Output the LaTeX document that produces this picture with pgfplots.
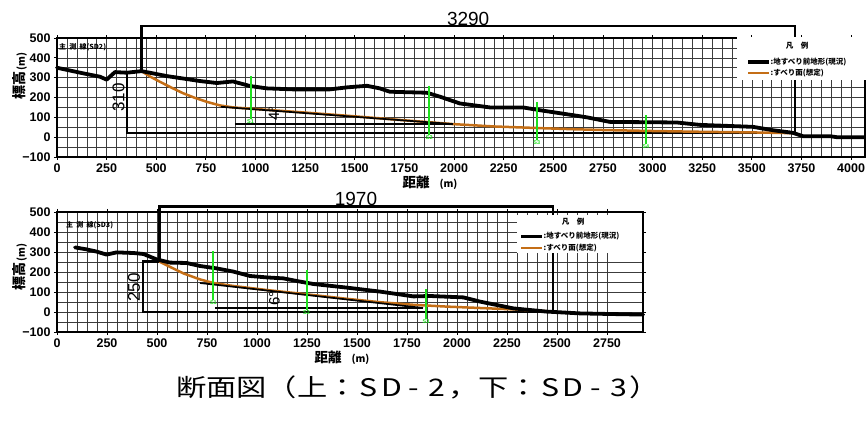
\documentclass[border=0pt]{standalone}
\usepackage{pgfplots}
\pgfplotsset{compat=1.18}
\usepackage{fontspec}
\setmainfont{Liberation Sans}
\newfontfamily\cjk{Noto Sans CJK JP}
\definecolor{slip}{RGB}{196,110,22}
\definecolor{bh}{RGB}{30,225,30}
\definecolor{gridc}{RGB}{60,60,60}
\newcommand\cc[1]{\makebox[0.75em]{#1}}
\pgfplotsset{
  myaxis/.style={
    scale only axis, anchor=south west,
    ymin=-100, ymax=500, ytick={-100,0,...,500},
    yticklabels={−100,0,100,200,300,400,500},
    minor y tick num=1, minor x tick num=4,
    grid=both,
    major grid style={gridc, line width=0.5pt},
    minor grid style={gridc, line width=0.5pt},
    axis line style={line width=1.3pt},
    tick align=outside, major tick length=3pt, minor tick length=0pt,
    tick style={black, line width=0.8pt},
    ticklabel style={font=\fontsize{12.5}{12.5}\selectfont\bfseries},
    /pgf/number format/assume math mode=true,
    /pgf/number format/1000 sep={},
    clip=false,
  },
  terrain/.style={black, line width=3.8pt, line join=round, line cap=round},
  slipline/.style={slip, line width=2.5pt, line join=round},
  boxline/.style={black, line width=2.2pt, line join=miter},
  thinline/.style={black, line width=1.7pt},
  hole/.style={bh, line width=1.9pt},
}
\begin{document}
\begin{tikzpicture}[x=1pt,y=1pt]
\useasboundingbox (0pt,0pt) rectangle (866pt,422pt);
% ---------------- top: SD-2 ----------------
\begin{axis}[myaxis, at={(57pt,265pt)}, width=808pt, height=119pt,
  xmin=0, xmax=4070, xtick={0,250,...,4000}]
\addplot[boxline] coordinates {(426,333) (426,562) (3716,562) (3716,22)};
\addplot[boxline] coordinates {(426,330) (352,330) (352,22) (3716,22)};
\addplot[slipline] coordinates {(426,333) (470,305) (519,279) (576,250) (634,222) (695,198) (755,178) (821,160) (886,150) (1000,142) (1250,124) (1500,105) (1750,85) (1994,66) (2200,54) (2420,46) (2600,40) (2750,36) (3000,31) (3250,27) (3500,24) (3716,20)};
\addplot[thinline] coordinates {(826,153) (1994,66)};
\addplot[thinline] coordinates {(896,66) (1994,66)};
\addplot[terrain] coordinates {(0,350) (131,322) (216,305) (250,290) (292,328) (352,325) (426,333) (553,308) (720,283) (805,273) (886,281) (972,258) (1057,246) (1188,241) (1375,241) (1460,251) (1561,259) (1626,246) (1677,229) (1863,224) (1929,204) (2029,170) (2180,150) (2346,150) (2432,136) (2598,111) (2669,100) (2785,77) (3122,74) (3238,62) (3505,52) (3606,35) (3706,22) (3757,5) (3892,5) (3927,0) (4070,0)};
\addplot[hole] coordinates {(975,308) (975,90)};
\addplot[hole] coordinates {(1875,258) (1875,10)};
\addplot[hole] coordinates {(2417,177) (2417,-15)};
\addplot[hole] coordinates {(2966,111) (2966,-35)};
\node[bh, font=\fontsize{5.5}{5.5}\selectfont\bfseries, anchor=north, inner sep=0.5pt] at (axis cs:975,90) {S1};
\node[bh, font=\fontsize{5.5}{5.5}\selectfont\bfseries, anchor=north, inner sep=0.5pt] at (axis cs:1875,10) {S2};
\node[bh, font=\fontsize{5.5}{5.5}\selectfont\bfseries, anchor=north, inner sep=0.5pt] at (axis cs:2417,-15) {S3};
\node[bh, font=\fontsize{5.5}{5.5}\selectfont\bfseries, anchor=north, inner sep=0.5pt] at (axis cs:2966,-35) {S4};
\node[font=\fontsize{19}{19}\selectfont] at (axis cs:2071,597) {3290};
\node[rotate=90, font=\fontsize{17}{17}\selectfont] at (axis cs:310,199) {310};
\node[rotate=90, font=\fontsize{15}{15}\selectfont] at (axis cs:1093,118) {4°};
\end{axis}
% ---------------- bottom: SD-3 ----------------
\begin{axis}[myaxis, at={(57pt,90pt)}, width=586pt, height=120pt,
  xmin=0, xmax=2930, xtick={0,250,...,2750}]
\addplot[boxline] coordinates {(512,255) (512,527) (2478,527) (2478,0)};
\addplot[boxline] coordinates {(512,252) (430,252) (430,0) (2478,0)};
\addplot[slipline] coordinates {(512,252) (560,228) (632,193) (715,163) (782,145) (882,130) (1048,110) (1215,92) (1448,66) (1615,49) (1782,36) (1948,27) (2282,13) (2478,2)};
\addplot[thinline] coordinates {(715,145) (1830,20)};
\addplot[thinline] coordinates {(790,20) (1830,20)};
\addplot[terrain] coordinates {(90,323) (148,313) (198,302) (248,287) (298,298) (382,295) (432,290) (498,263) (565,247) (648,245) (715,230) (798,218) (882,202) (965,180) (1048,173) (1132,168) (1215,152) (1282,140) (1448,122) (1615,102) (1782,78) (1865,80) (2032,73) (2115,52) (2282,18) (2448,2) (2615,-7) (2765,-10) (2930,-13)};
\addplot[hole] coordinates {(782,306) (782,60)};
\addplot[hole] coordinates {(1248,210) (1248,12)};
\addplot[hole] coordinates {(1845,113) (1845,-35)};
\node[bh, font=\fontsize{5.5}{5.5}\selectfont\bfseries, anchor=north, inner sep=0.5pt] at (axis cs:782,60) {S1};
\node[bh, font=\fontsize{5.5}{5.5}\selectfont\bfseries, anchor=north, inner sep=0.5pt] at (axis cs:1248,12) {S2};
\node[bh, font=\fontsize{5.5}{5.5}\selectfont\bfseries, anchor=north, inner sep=0.5pt] at (axis cs:1845,-35) {S3};
\node[font=\fontsize{19}{19}\selectfont] at (axis cs:1495,567) {1970};
\node[rotate=90, font=\fontsize{17}{17}\selectfont] at (axis cs:385,122) {250};
\node[rotate=90, font=\fontsize{15}{15}\selectfont] at (axis cs:1087,67) {6°};
\end{axis}
% ---------------- legends ----------------
\fill[white] (737pt,342pt) rectangle (866pt,385pt);
\node[font=\cjk\bfseries\fontsize{7.5}{7.5}\selectfont] at (797pt,376pt) {凡　例};
\draw[black, line width=3.8pt] (748pt,360pt) -- (769pt,360pt);
\node[anchor=west, inner sep=0.5pt, font=\cjk\bfseries\fontsize{7.5}{7.5}\selectfont] at (770pt,360pt) {:地すべり前地形(現況)};
\draw[slip, line width=2.5pt] (748pt,349pt) -- (769pt,349pt);
\node[anchor=west, inner sep=0.5pt, font=\cjk\bfseries\fontsize{7.5}{7.5}\selectfont] at (770pt,349pt) {:すべり面(想定)};
\fill[white] (517pt,169pt) rectangle (642.4pt,207pt);
\node[font=\cjk\bfseries\fontsize{7.5}{7.5}\selectfont] at (573pt,200pt) {凡　例};
\draw[black, line width=3.8pt] (521pt,185.5pt) -- (542pt,185.5pt);
\node[anchor=west, inner sep=0.5pt, font=\cjk\bfseries\fontsize{7.5}{7.5}\selectfont] at (543pt,185.5pt) {:地すべり前地形(現況)};
\draw[slip, line width=2.5pt] (521pt,174pt) -- (542pt,174pt);
\node[anchor=west, inner sep=0.5pt, font=\cjk\bfseries\fontsize{7.5}{7.5}\selectfont] at (543pt,174pt) {:すべり面(想定)};
% ---------------- sub-titles ----------------
\node[anchor=west, inner sep=0pt, font=\cjk\bfseries\fontsize{7}{7}\selectfont] at (59pt,375pt) {主\ \ 測\ \ 線(SD2)};
\node[anchor=west, inner sep=0pt, font=\cjk\bfseries\fontsize{7}{7}\selectfont] at (66pt,197pt) {主\ \ 測\ \ 線(SD3)};
% ---------------- axis titles ----------------
\node[rotate=90] at (20pt,346pt) {{\cjk\bfseries\fontsize{14}{14}\selectfont 標高}\,{\cjk\bfseries\fontsize{10}{10}\selectfont (m)}};
\node[rotate=90] at (20pt,155pt) {{\cjk\bfseries\fontsize{14}{14}\selectfont 標高}\,{\cjk\bfseries\fontsize{10}{10}\selectfont (m)}};
\node at (430pt,239pt) {{\cjk\bfseries\fontsize{13.5}{13.5}\selectfont 距離}\quad{\cjk\bfseries\fontsize{10}{10}\selectfont (m)}};
\node at (342pt,64pt) {{\cjk\bfseries\fontsize{13.5}{13.5}\selectfont 距離}\quad{\cjk\bfseries\fontsize{10}{10}\selectfont (m)}};
% ---------------- caption ----------------
\node at (418pt,35pt) {\scalebox{1.1}[0.88]{\cjk\fontsize{27.5}{27.5}\selectfont 断面図（上：\cc{S}\cc{D}\cc{-}\cc{2}，下：\cc{S}\cc{D}\cc{-}\cc{3}）}};
\end{tikzpicture}
\end{document}
